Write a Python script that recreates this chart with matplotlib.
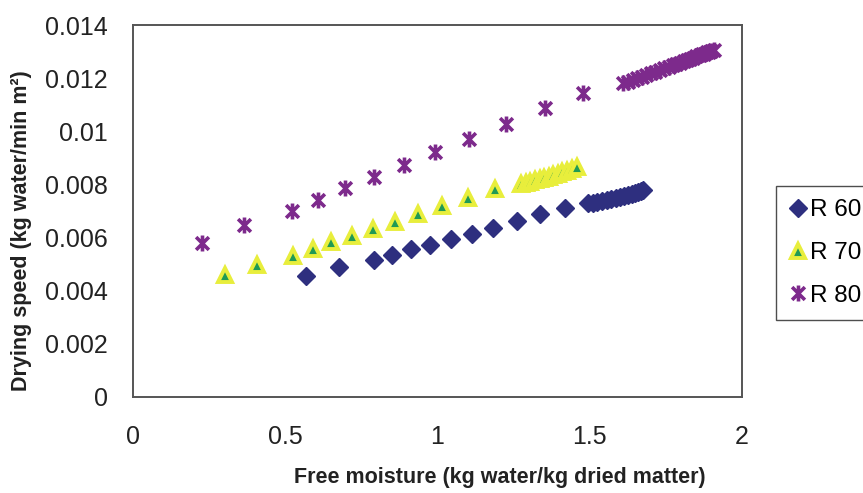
import matplotlib
matplotlib.use("Agg")
import matplotlib.pyplot as plt
from matplotlib.path import Path

plt.rcParams["font.family"] = ["Liberation Sans", "DejaVu Sans"]

# ---- data ----
r60_x = [0.568, 0.675, 0.791, 0.852, 0.912, 0.975, 1.044, 1.112, 1.183, 1.260,
         1.337, 1.419, 1.495, 1.510, 1.525, 1.540, 1.555, 1.570, 1.585, 1.600,
         1.612, 1.625, 1.637, 1.648, 1.658, 1.668, 1.676]
r60_y = [0.00455, 0.00490, 0.00516, 0.00534, 0.00557, 0.00572, 0.00593, 0.00613,
         0.00637, 0.00664, 0.00689, 0.00712, 0.00729, 0.00732, 0.00735, 0.00738,
         0.00741, 0.00745, 0.00749, 0.00753, 0.00757, 0.00761, 0.00765, 0.00769,
         0.00773, 0.00776, 0.00779]

r70_x = [0.302, 0.409, 0.525, 0.590, 0.649, 0.720, 0.789, 0.860, 0.937, 1.015,
         1.101, 1.189, 1.273, 1.290, 1.305, 1.320, 1.335, 1.350, 1.365, 1.380,
         1.395, 1.410, 1.425, 1.440, 1.457]
r70_y = [0.00459, 0.00497, 0.00532, 0.00557, 0.00582, 0.00606, 0.00631, 0.00660,
         0.00689, 0.00719, 0.00748, 0.00782, 0.00802, 0.00807, 0.00811, 0.00816,
         0.00820, 0.00825, 0.00829, 0.00834, 0.00840, 0.00846, 0.00852, 0.00859,
         0.00866]

r80_x = [0.226, 0.366, 0.521, 0.608, 0.697, 0.791, 0.890, 0.993, 1.104, 1.225,
         1.353, 1.479, 1.610, 1.625, 1.640, 1.655, 1.670, 1.685, 1.700, 1.715,
         1.730, 1.745, 1.760, 1.772, 1.784, 1.796, 1.808, 1.820, 1.830, 1.840,
         1.850, 1.860, 1.868, 1.876, 1.884, 1.892, 1.899, 1.906]
r80_y = [0.00581, 0.00647, 0.00701, 0.00741, 0.00785, 0.00829, 0.00874, 0.00922,
         0.00972, 0.01027, 0.01087, 0.01145, 0.01181, 0.01187, 0.01194, 0.01200,
         0.01206, 0.01213, 0.01219, 0.01225, 0.01232, 0.01238, 0.01244, 0.01249,
         0.01254, 0.01259, 0.01265, 0.01270, 0.01274, 0.01278, 0.01282, 0.01287,
         0.01290, 0.01293, 0.01297, 0.01300, 0.01303, 0.01306]

x_ticks = [0, 0.5, 1, 1.5, 2]
x_tick_labels = ["0", "0.5", "1", "1.5", "2"]
y_ticks = [0, 0.002, 0.004, 0.006, 0.008, 0.01, 0.012, 0.014]
y_tick_labels = ["0", "0.002", "0.004", "0.006", "0.008", "0.01", "0.012", "0.014"]

# Excel-style star: an X with a vertical bar through it
star = Path(
    [(-1, -1), (1, 1), (-1, 1), (1, -1), (0, -1.25), (0, 1.25)],
    [Path.MOVETO, Path.LINETO, Path.MOVETO, Path.LINETO, Path.MOVETO, Path.LINETO],
)

fig = plt.figure(figsize=(8.63, 4.93), dpi=100)
ax = fig.add_axes([0.154, 0.195, 0.706, 0.754])

ax.plot(r60_x, r60_y, linestyle="none", marker="D", markersize=9,
        color="#2e2f7f", markeredgecolor="#2e2f7f", label="R 60")
ax.plot(r70_x, r70_y, linestyle="none", marker="^", markersize=10.5,
        markerfacecolor="#1f9a55", markeredgecolor="#e8ee3c",
        markeredgewidth=2.8, label="R 70")
ax.plot(r80_x, r80_y, linestyle="none", marker=star, markersize=11.5,
        markeredgecolor="#7d2a8c", markeredgewidth=2.6, label="R 80")

ax.set_xlim(0, 2)
ax.set_ylim(0, 0.014)
ax.set_xticks(x_ticks)
ax.set_xticklabels(x_tick_labels)
ax.set_yticks(y_ticks)
ax.set_yticklabels(y_tick_labels)
ax.tick_params(axis="both", length=0, labelsize=18, colors="#222222")
ax.tick_params(axis="x", pad=20)
ax.tick_params(axis="y", pad=18)

for sp in ax.spines.values():
    sp.set_color("#555555")
    sp.set_linewidth(1.4)

ax.set_xlabel("Free moisture (kg water/kg dried matter)", fontsize=15.5,
              fontweight="bold", color="#222222")
ax.xaxis.set_label_coords(0.603, -0.19)
ax.set_ylabel("Drying speed (kg water/min m²)", fontsize=15.5,
              fontweight="bold", color="#222222")
ax.yaxis.set_label_coords(-0.166, 0.446)

# legend box starts at x=776 px; its right edge runs past the figure, as in the reference
leg = ax.legend(loc="upper left", bbox_to_anchor=(776 / 863, 1 - 186 / 493),
                bbox_transform=fig.transFigure, borderaxespad=0,
                fontsize=17.5, frameon=True, fancybox=False, handlelength=0.7,
                handletextpad=0.15, labelspacing=0.86, borderpad=0.54)
leg.get_frame().set_edgecolor("#222222")
leg.get_frame().set_linewidth(1.0)

fig.savefig("out.png", dpi=100)
